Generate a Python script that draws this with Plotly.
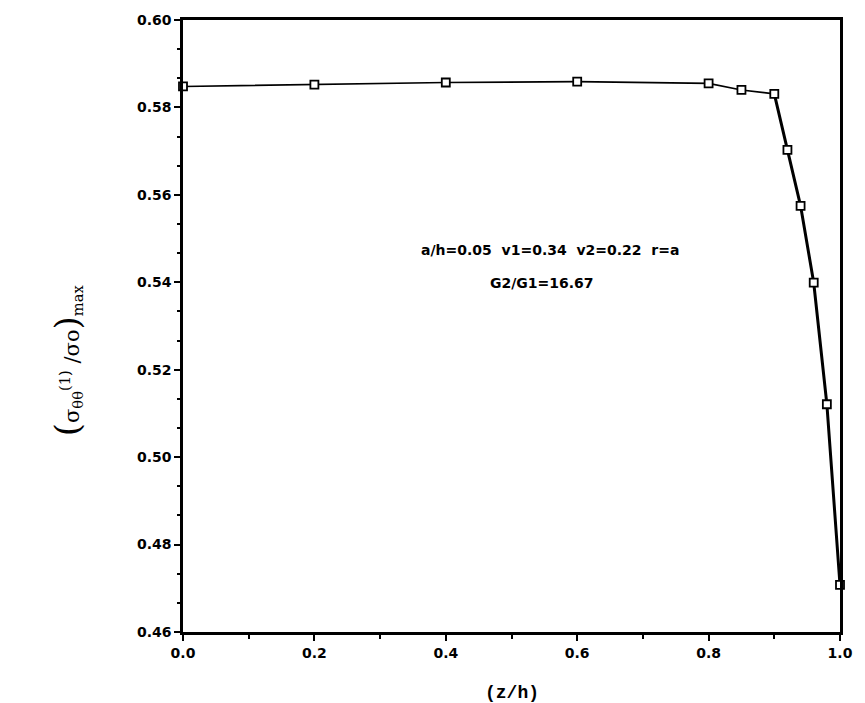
import plotly.graph_objects as go

# data
z_h = [0.0, 0.2, 0.4, 0.6, 0.8, 0.85, 0.90, 0.92, 0.94, 0.96, 0.98, 1.0]
sigma = [0.5848, 0.5852, 0.5857, 0.5859, 0.5855, 0.5840, 0.5831, 0.5703, 0.5575, 0.5399, 0.5121, 0.4708]
x_ticks = [0.0, 0.2, 0.4, 0.6, 0.8, 1.0]
x_tick_text = ["0.0", "0.2", "0.4", "0.6", "0.8", "1.0"]
y_ticks = [0.46, 0.48, 0.50, 0.52, 0.54, 0.56, 0.58, 0.60]
y_tick_text = ["0.46", "0.48", "0.50", "0.52", "0.54", "0.56", "0.58", "0.60"]
note_line1 = "a/h=0.05  v1=0.34  v2=0.22  r=a"
note_line2 = "G2/G1=16.67"
x_title = "(z/h)"

split = z_h.index(0.90)

fig = go.Figure()
# thin part of the curve
fig.add_trace(go.Scatter(
    x=z_h[:split + 1], y=sigma[:split + 1], mode="lines",
    line=dict(color="black", width=1.6), showlegend=False, hoverinfo="skip"))
# thick steep part
fig.add_trace(go.Scatter(
    x=z_h[split:], y=sigma[split:], mode="lines",
    line=dict(color="black", width=3), showlegend=False, hoverinfo="skip"))
# markers
fig.add_trace(go.Scatter(
    x=z_h, y=sigma, mode="markers",
    marker=dict(symbol="square", size=8, color="white",
                line=dict(color="black", width=1.8)),
    showlegend=False, cliponaxis=False))

tickfont = dict(family="DejaVu Sans", size=14, color="black")

def spaced(s):
    return s.replace("  ", "&nbsp;&nbsp;")

fig.update_layout(
    width=865, height=703,
    margin=dict(l=183, r=16, t=19, b=71),
    paper_bgcolor="white", plot_bgcolor="white",
    font=dict(family="DejaVu Sans", color="black"),
    xaxis=dict(
        range=[0, 1.0], tickvals=x_ticks, ticktext=["<b>%s</b>" % t for t in x_tick_text],
        ticks="outside", ticklen=6, tickwidth=2, tickcolor="black",
        minor=dict(dtick=0.1, tick0=0, ticks="outside", ticklen=4, tickwidth=2, tickcolor="black"),
        showline=True, linecolor="black", linewidth=2.5, mirror=True,
        showgrid=False, zeroline=False, tickfont=tickfont,
    ),
    yaxis=dict(
        range=[0.46, 0.60], tickvals=y_ticks, ticktext=["<b>%s</b>" % t for t in y_tick_text],
        ticks="outside", ticklen=6, tickwidth=2, tickcolor="black",
        minor=dict(dtick=0.02 / 3, tick0=0.46, ticks="outside", ticklen=3, tickwidth=1.5, tickcolor="black"),
        showline=True, linecolor="black", linewidth=2.5, mirror=True,
        showgrid=False, zeroline=False, tickfont=tickfont,
    ),
    annotations=[
        dict(x=0.559, y=0.5474, xref="x", yref="y", text="<b>%s</b>" % spaced(note_line1),
             showarrow=False, font=dict(family="DejaVu Sans", size=14, color="black")),
        dict(x=0.547, y=0.5398, xref="x", yref="y", text="<b>%s</b>" % note_line2,
             showarrow=False, font=dict(family="DejaVu Sans", size=14, color="black")),
        dict(x=0.5, y=0, xref="paper", yref="paper", yshift=-61, yanchor="middle",
             text="<b>%s</b>" % x_title, showarrow=False,
             font=dict(family="Liberation Mono", size=18, color="black")),
        dict(x=0, y=0.444, xref="paper", yref="paper", xshift=-138, textangle=-90,
             text="<span style='font-size:34px'>(</span>σ<sub>θθ</sub><sup>(1)</sup> /σo<span style='font-size:34px'>)</span><sub>max</sub>",
             showarrow=False, font=dict(family="DejaVu Serif", size=21, color="black")),
    ],
)

fig.write_html("out.html")
